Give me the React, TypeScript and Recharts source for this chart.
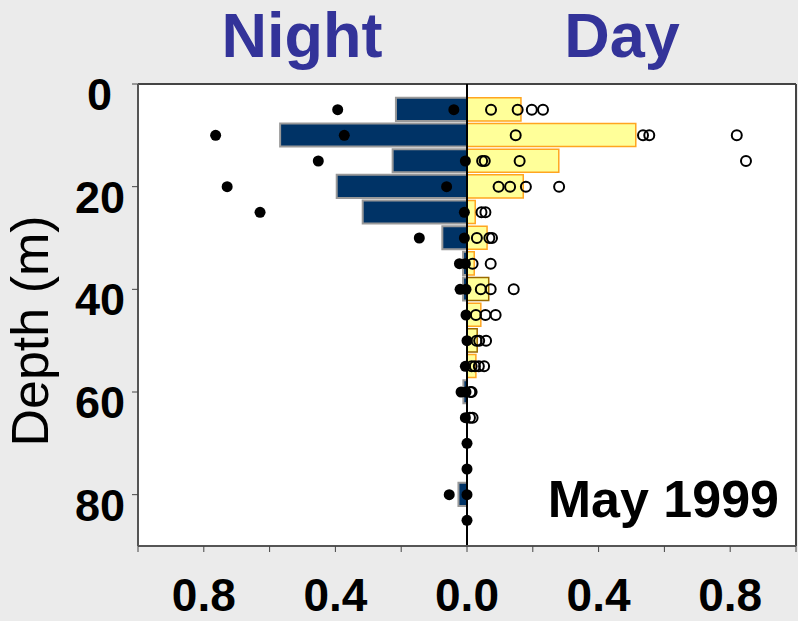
import React from 'react';
import {
  ComposedChart, Bar, Scatter, XAxis, YAxis, CartesianGrid, ReferenceLine, Cell,
} from 'recharts';

const binDepths = [5, 10, 15, 20, 25, 30, 35, 40, 45, 50, 55, 60, 65, 70, 75, 80, 85];
const nightBarValues = [0.216, 0.568, 0.226, 0.396, 0.317, 0.075, 0.012, 0.012, 0, 0, 0, 0.011, 0, 0, 0, 0.026, 0];
const dayBarValues = [0.164, 0.513, 0.279, 0.171, 0.025, 0.061, 0.022, 0.066, 0.042, 0.031, 0.027, 0, 0, 0, 0, 0, 0];

const nightPointDepths = [5, 5, 10, 10, 15, 15, 20, 20, 25, 25, 30, 30, 35, 35, 40, 40, 45, 50, 55, 60, 60, 65, 70, 75, 80, 80, 85];
const nightPointValues = [0.393, 0.04, 0.764, 0.373, 0.452, 0.005, 0.729, 0.062, 0.629, 0.008, 0.145, 0.008, 0.023, 0.005, 0.021, 0.003, 0.003, 0, 0.005, 0.018, 0.003, 0.005, 0, 0, 0.054, 0, 0];

const dayPointDepths = [5, 5, 5, 5, 10, 10, 10, 10, 15, 15, 15, 15, 20, 20, 20, 20, 25, 25, 30, 30, 30, 35, 35, 40, 40, 40, 45, 45, 45, 50, 50, 50, 55, 55, 55, 55, 60, 60, 65, 65];
const dayPointValues = [0.073, 0.154, 0.197, 0.231, 0.148, 0.535, 0.554, 0.82, 0.046, 0.054, 0.16, 0.848, 0.096, 0.131, 0.179, 0.28, 0.044, 0.056, 0.03, 0.068, 0.076, 0.017, 0.072, 0.042, 0.072, 0.142, 0.027, 0.056, 0.087, 0.029, 0.037, 0.058, 0.014, 0.024, 0.036, 0.052, 0.01, 0.014, 0.009, 0.017];

const xTicks = [-1, -0.8, -0.6, -0.4, -0.2, 0, 0.2, 0.4, 0.6, 0.8, 1];
const yTicks = [0, 20, 40, 60, 80];
const darkDayStroke = [40, 50];

const FONT = '"Liberation Sans", Arial, sans-serif';

const barData = binDepths.map((d, i) => ({ depth: d, night: -nightBarValues[i], day: dayBarValues[i] }));
const nightPoints = nightPointDepths.map((d, i) => ({ depth: d, x: -nightPointValues[i] }));
const dayPoints = dayPointDepths.map((d, i) => ({ depth: d, x: dayPointValues[i] }));

const XTick = (props: any) => {
  const { x, y, payload } = props;
  const v = payload.value;
  const k = Math.round(Math.abs(v) * 10);
  if (k % 4 !== 0 || k >= 10) return null;
  return (
    <text x={x} y={y + 57} textAnchor="middle" fontFamily={FONT} fontWeight="bold" fontSize={46} fill="#000">
      {(k / 10).toFixed(1)}
    </text>
  );
};

const YTick = (props: any) => {
  const { x, y, payload } = props;
  const v = payload.value;
  return (
    <text x={v === 0 ? x - 18 : x - 5} y={y + 26} textAnchor="end" fontFamily={FONT} fontWeight="bold" fontSize={45} fill="#000">
      {v}
    </text>
  );
};

const FilledDot = (props: any) => {
  const { cx, cy } = props;
  return <circle cx={cx} cy={cy} r={5.5} fill="#000" />;
};
const OpenDot = (props: any) => {
  const { cx, cy } = props;
  return <circle cx={cx} cy={cy} r={5} fill="none" stroke="#000" strokeWidth={2} />;
};

export default function App() {
  return (
    <div style={{ position: 'fixed', left: 0, top: 0, width: 798, height: 621, background: '#ebebeb' }}>
      <ComposedChart
        width={798}
        height={621}
        layout="vertical"
        data={barData}
        stackOffset="sign"
        margin={{ top: 84, right: 2, bottom: 0, left: 0 }}
      >
        <CartesianGrid horizontal={false} vertical={false} fill="#ffffff" />
        <XAxis
          type="number"
          domain={[-1, 1]}
          ticks={xTicks}
          allowDataOverflow
          height={75}
          tickSize={6}
          tickMargin={2}
          tick={<XTick />}
          axisLine={{ stroke: '#555', strokeWidth: 2 }}
          tickLine={{ stroke: '#444' }}
        />
        <YAxis
          type="number"
          dataKey="depth"
          domain={[0, 90]}
          ticks={yTicks}
          allowDataOverflow
          width={138}
          tickSize={6}
          tickMargin={2}
          tick={<YTick />}
          axisLine={{ stroke: '#555', strokeWidth: 2 }}
          tickLine={{ stroke: '#444' }}
        />
        <Bar dataKey="night" stackId="s" barSize={26} fill="#003366" stroke="#999999" strokeWidth={2} isAnimationActive={false} />
        <Bar dataKey="day" stackId="s" barSize={26} fill="#ffff99" stroke="#ffa520" strokeWidth={1.5} isAnimationActive={false}>
          {barData.map((e, i) => (
            <Cell key={i} stroke={darkDayStroke.includes(e.depth) ? '#9a6a00' : '#ffa520'} />
          ))}
        </Bar>
        <ReferenceLine y={0} stroke="#444" strokeWidth={2} />
        <ReferenceLine x={1} stroke="#444" strokeWidth={2} />
        <ReferenceLine x={0} stroke="#000" strokeWidth={2} />
        <Scatter data={nightPoints} dataKey="x" shape={<FilledDot />} isAnimationActive={false} />
        <Scatter data={dayPoints} dataKey="x" shape={<OpenDot />} isAnimationActive={false} />
      </ComposedChart>
      <svg width={798} height={621} style={{ position: 'absolute', left: 0, top: 0, pointerEvents: 'none' }}>
        <text x={302} y={57} textAnchor="middle" fontFamily={FONT} fontWeight="bold" fontSize={63} fill="#333399">Night</text>
        <text x={622} y={57} textAnchor="middle" fontFamily={FONT} fontWeight="bold" fontSize={63} fill="#333399">Day</text>
        <text x={779} y={517} textAnchor="end" fontFamily={FONT} fontWeight="bold" fontSize={52} fill="#000">May 1999</text>
        <text x={48} y={331} transform="rotate(-90 48 331)" textAnchor="middle" fontFamily={FONT} fontSize={52} fill="#000">Depth (m)</text>
      </svg>
    </div>
  );
}
